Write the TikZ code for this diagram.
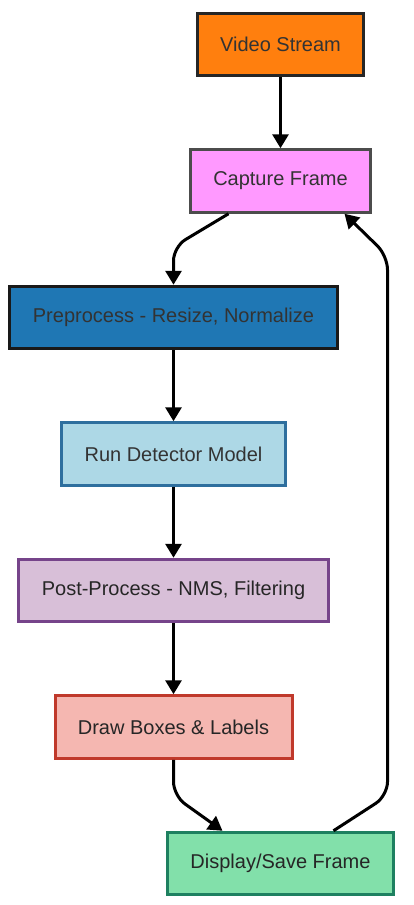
\documentclass[tikz,border=0pt]{standalone}
\usepackage{fontspec}
\setmainfont{Liberation Sans}
\usetikzlibrary{positioning,arrows.meta}
\definecolor{streamfill}{HTML}{FF7F0E}
\definecolor{capturefill}{HTML}{FF99FF}
\definecolor{prefill}{HTML}{1F77B4}
\definecolor{detectfill}{HTML}{ADD8E6}
\definecolor{detectline}{HTML}{2E6F9E}
\definecolor{postfill}{HTML}{D8BFD8}
\definecolor{postline}{HTML}{76448A}
\definecolor{drawfill}{HTML}{F5B7B1}
\definecolor{drawline}{HTML}{C0392B}
\definecolor{displayfill}{HTML}{82E0AA}
\definecolor{displayline}{HTML}{1E8060}
\definecolor{txt}{HTML}{333333}
\tikzstyle{arrow} = [line width=3pt, -{Triangle[length=14pt,width=16pt]}]
\tikzstyle{stagebox} = [
    rectangle,                 % Shape
    draw=black,                % Border color
    line width=3pt,            % Thick border
    minimum height=62.5pt,     % Height
    inner sep=0pt,
    text centered,             % Centered text
    text=txt,
    font=\fontsize{20}{24}\selectfont
]

\begin{document}
\begin{tikzpicture}[x=1pt, y=1pt, node distance=71pt]
		\useasboundingbox (0,0) rectangle (413,-905);

		% Capture stages
		\node[stagebox, fill=streamfill, draw=black!85, minimum width=166pt] at (280.5,-44.5) (stream) {Video Stream};
		\node[stagebox, fill=capturefill, draw=black!70, minimum width=180pt, below=of stream] (capture) {Capture Frame};

		% Detection stages
		\node[stagebox, fill=prefill, draw=black!90, minimum width=328pt, below=of capture, xshift=-107pt] (preproc) {Preprocess - Resize, Normalize};
		\node[stagebox, fill=detectfill, draw=detectline, minimum width=224pt, below=of preproc] (detect) {Run Detector Model};
		\node[stagebox, fill=postfill, draw=postline, minimum width=310pt, below=of detect, text=black!85] (postproc) {Post-Process - NMS, Filtering};

		% Output stages
		\node[stagebox, fill=drawfill, draw=drawline, minimum width=237pt, below=of postproc, text=black!85] (drawbox) {Draw Boxes \& Labels};
		\node[stagebox, fill=displayfill, draw=displayline, minimum width=226pt, below=of drawbox, xshift=107pt, text=black!85] (display) {Display/Save Frame};

		% Arrows
		\draw[arrow] (stream) -- (capture);
		\draw[arrow, rounded corners=14pt] ([xshift=-52pt]capture.south) -- ([yshift=38pt]preproc.north) -- (preproc.north);
		\draw[arrow] (preproc) -- (detect);
		\draw[arrow] (detect) -- (postproc);
		\draw[arrow] (postproc) -- (drawbox);
		\draw[arrow, rounded corners=14pt] (drawbox.south) -- ([yshift=-36pt]drawbox.south) -- ([xshift=-58pt]display.north);
		\draw[arrow, rounded corners=14pt] ([xshift=53pt]display.north) -- ([xshift=107pt,yshift=35pt]display.north)
			-- ([xshift=107pt,yshift=-42pt]capture.south) -- ([xshift=64pt]capture.south);
	\end{tikzpicture}
\end{document}
